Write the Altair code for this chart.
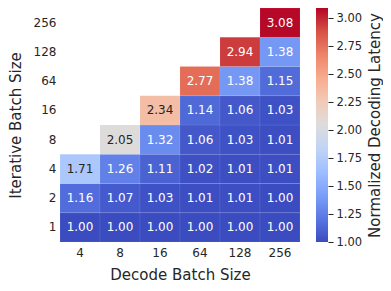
import altair as alt
import pandas as pd

# ---- data ----
decode_sizes = ["4", "8", "16", "64", "128", "256"]
iterative_sizes = ["1", "2", "4", "8", "16", "64", "128", "256"]

lat_4 = [1.00, 1.16, 1.71]
lat_8 = [1.00, 1.07, 1.26, 2.05]
lat_16 = [1.00, 1.03, 1.11, 1.32, 2.34]
lat_64 = [1.00, 1.01, 1.02, 1.06, 1.14, 2.77]
lat_128 = [1.00, 1.01, 1.01, 1.03, 1.06, 1.38, 2.94]
lat_256 = [1.00, 1.00, 1.01, 1.01, 1.03, 1.15, 1.38, 3.08]

columns = [lat_4, lat_8, lat_16, lat_64, lat_128, lat_256]

cbar_min = 1.00
cbar_max = 3.09
cbar_ticks = [1.00, 1.25, 1.50, 1.75, 2.00, 2.25, 2.50, 2.75, 3.00]

# coolwarm colormap stops
coolwarm = ["#3b4cc0", "#5977e3", "#7b9ff9", "#9ebeff", "#c0d4f5", "#dddcdc",
            "#f2cbb7", "#f7ac8e", "#ee8468", "#d65244", "#b40426"]

rows = []
for d, col in zip(decode_sizes, columns):
    for it, v in zip(iterative_sizes, col):
        rows.append({"decode": d, "iterative": it, "latency": v})
df = pd.DataFrame(rows)

FONT = "DejaVu Sans"
INK = "#262626"

color_scale = alt.Scale(domain=[cbar_min, cbar_max], range=coolwarm, interpolate="rgb")

base = alt.Chart(df).encode(
    x=alt.X("decode:O", sort=decode_sizes, title="Decode Batch Size",
            axis=alt.Axis(labelAngle=0, ticks=False, domain=False, labelPadding=5,
                          titlePadding=9, labelFontSize=12, titleFontSize=15,
                          labelFont=FONT, titleFont=FONT, labelColor=INK,
                          titleColor=INK, titleFontWeight="normal")),
    y=alt.Y("iterative:O", sort=list(reversed(iterative_sizes)),
            title="Iterative Batch Size",
            axis=alt.Axis(labelAngle=0, ticks=False, domain=False, labelPadding=4,
                          titlePadding=10, labelFontSize=12, titleFontSize=15,
                          labelFont=FONT, titleFont=FONT, labelColor=INK,
                          titleColor=INK, titleFontWeight="normal")),
)

rects = base.mark_rect(stroke="white", strokeWidth=0.5, strokeOpacity=0.15).encode(
    color=alt.Color("latency:Q", scale=color_scale, legend=None)
)

labels = base.mark_text(font=FONT, fontSize=12).encode(
    text=alt.Text("latency:Q", format=".2f"),
    color=alt.condition("datum.latency >= 1.6 && datum.latency <= 2.5",
                        alt.value(INK), alt.value("white")),
)

heat = (rects + labels).properties(width=240, height=234)

gradient = alt.LinearGradient(
    gradient="linear",
    stops=[alt.GradientStop(color=c, offset=i / (len(coolwarm) - 1))
           for i, c in enumerate(coolwarm)],
    x1=0, x2=0, y1=1, y2=0,
)

cbar_df = pd.DataFrame({"lo": [cbar_min], "hi": [cbar_max]})
cbar = alt.Chart(cbar_df).mark_rect(fill=gradient).encode(
    y=alt.Y("lo:Q", scale=alt.Scale(domain=[cbar_min, cbar_max], nice=False, zero=False),
            title="Normalized Decoding Latency",
            axis=alt.Axis(orient="right", values=cbar_ticks, format=".2f",
                          domain=False, grid=False, tickSize=5, tickColor=INK,
                          tickWidth=1, labelPadding=3, titlePadding=6,
                          titleAngle=270, titleBaseline="top",
                          labelFontSize=11.5, titleFontSize=15,
                          labelFont=FONT, titleFont=FONT, labelColor=INK,
                          titleColor=INK, titleFontWeight="normal")),
    y2="hi:Q",
).properties(width=12, height=234)

chart = alt.hconcat(heat, cbar, spacing=15).properties(
    padding={"left": 0, "top": -1, "right": 0, "bottom": 0}
).configure_view(strokeWidth=0)

chart.save("out.html", embed_options={"renderer": "svg", "actions": False})
